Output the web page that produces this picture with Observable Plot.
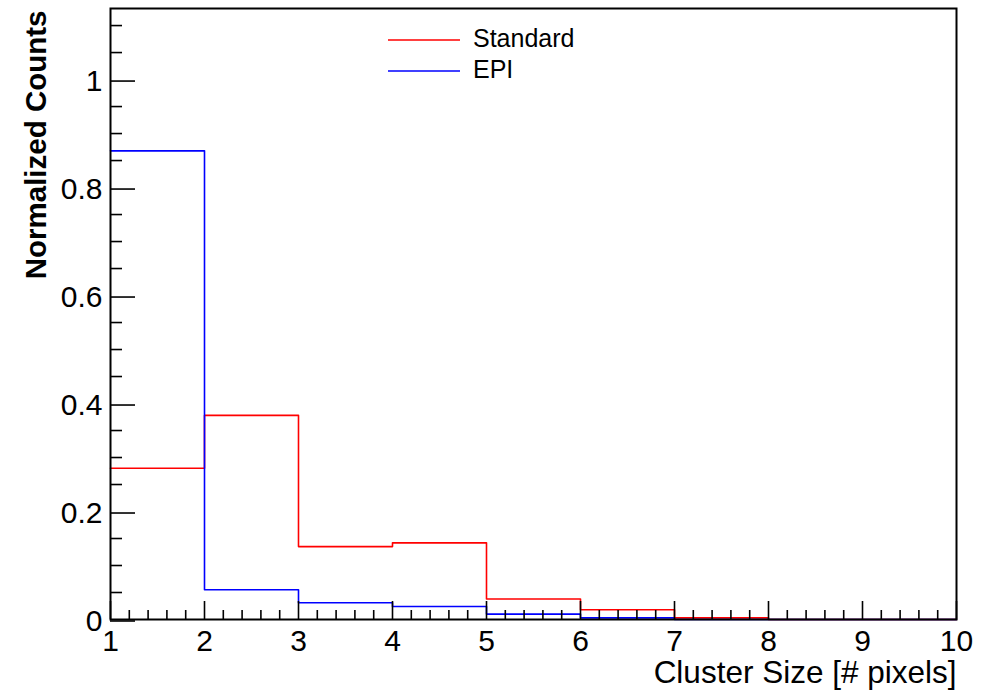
<!DOCTYPE html>
<html><head><meta charset="utf-8">
<script src="https://cdn.jsdelivr.net/npm/d3@7"></script>
<script src="https://cdn.jsdelivr.net/npm/@observablehq/plot@0.6"></script>
<style>
html,body{margin:0;padding:0;background:#fff;}
#chart svg{display:block;}
</style>
</head><body><div id="chart"></div>
<script>
// ---- data ----
const binEdges = [1, 2, 3, 4, 5, 6, 7, 8, 9, 10];
const standardCounts = [0.280, 0.378, 0.135, 0.142, 0.038, 0.018, 0.003, 0, 0];
const epiCounts = [0.868, 0.055, 0.031, 0.024, 0.010, 0.003, 0, 0, 0];
const seriesNames = ["Standard", "EPI"];
const seriesColors = ["#ff0000", "#0000ff"];
const xTicks = [1, 2, 3, 4, 5, 6, 7, 8, 9, 10];
const yTicks = [0, 0.2, 0.4, 0.6, 0.8, 1];
const yMinorTicks = [0.05, 0.1, 0.15, 0.25, 0.3, 0.35, 0.45, 0.5, 0.55, 0.65, 0.7, 0.75, 0.85, 0.9, 0.95, 1.05, 1.1];
const xMinorTicks = [1.2,1.4,1.6,1.8,2.2,2.4,2.6,2.8,3.2,3.4,3.6,3.8,4.2,4.4,4.6,4.8,5.2,5.4,5.6,5.8,6.2,6.4,6.6,6.8,7.2,7.4,7.6,7.8,8.2,8.4,8.6,8.8,9.2,9.4,9.6,9.8];
const xLabel = "Cluster Size [# pixels]";
const yLabel = "Normalized Counts";

// histogram outline points (step-after), closing at last edge
function stepPoints(values, name) {
  const pts = values.map((v, i) => ({x: binEdges[i], y: v, s: name}));
  pts.push({x: binEdges[binEdges.length - 1], y: values[values.length - 1], s: name});
  return pts;
}
const stdPts = stepPoints(standardCounts, seriesNames[0]);
const epiPts = stepPoints(epiCounts, seriesNames[1]);

const FONT = "'Liberation Sans', Arial, Helvetica, sans-serif";

const chart = Plot.plot({
  width: 988,
  height: 690,
  marginLeft: 110,
  marginRight: 32,
  marginTop: 8,
  marginBottom: 71,
  style: {fontFamily: FONT, background: "#fff", color: "#000"},
  x: {domain: [1, 10]},
  y: {domain: [0, 1.1316]},
  marks: [
    Plot.line(stdPts, {x: "x", y: "y", stroke: seriesColors[0], strokeWidth: 1.6, curve: "step-after"}),
    Plot.line(epiPts, {x: "x", y: "y", stroke: seriesColors[1], strokeWidth: 1.6, curve: "step-after"}),
    Plot.axisY(yTicks, {anchor: "left", tickSize: -25, tickPadding: 33, strokeWidth: 1.6, fontSize: 30, dy: 1.5, tickFormat: d => String(d), label: null}),
    Plot.axisY(yMinorTicks, {anchor: "left", tickSize: -12, strokeWidth: 1.6, text: null, label: null}),
    Plot.axisX(xTicks, {anchor: "bottom", tickSize: -18, tickPadding: 28, strokeWidth: 1.6, fontSize: 30, tickFormat: d => String(d), label: null}),
    Plot.axisX(xMinorTicks, {anchor: "bottom", tickSize: -9, strokeWidth: 1.6, text: null, label: null}),
    Plot.frame({stroke: "#000", strokeWidth: 2}),
    Plot.text([xLabel], {frameAnchor: "bottom-right", textAnchor: "end", lineAnchor: "bottom", dy: 63, fontSize: 31.5, fill: "#000"}),
    Plot.text([yLabel], {frameAnchor: "top-left", textAnchor: "end", rotate: -90, lineAnchor: "bottom", dx: -65, dy: 2, fontSize: 29.5, fontWeight: "bold", fill: "#000"})
  ]
});
document.getElementById("chart").appendChild(chart);

// legend inside the frame
const svg = d3.select(chart);
const lg = svg.append("g").attr("font-family", FONT).attr("font-size", 25).attr("text-anchor", "start");
seriesNames.forEach((name, i) => {
  const yy = 40 + i * 31;
  lg.append("line").attr("x1", 388).attr("x2", 460).attr("y1", yy).attr("y2", yy)
    .attr("stroke", seriesColors[i]).attr("stroke-width", 1.6);
  lg.append("text").attr("x", 473).attr("y", yy + 7).attr("fill", "#000").attr("text-anchor", "start").text(name);
});
</script>
</body></html>
